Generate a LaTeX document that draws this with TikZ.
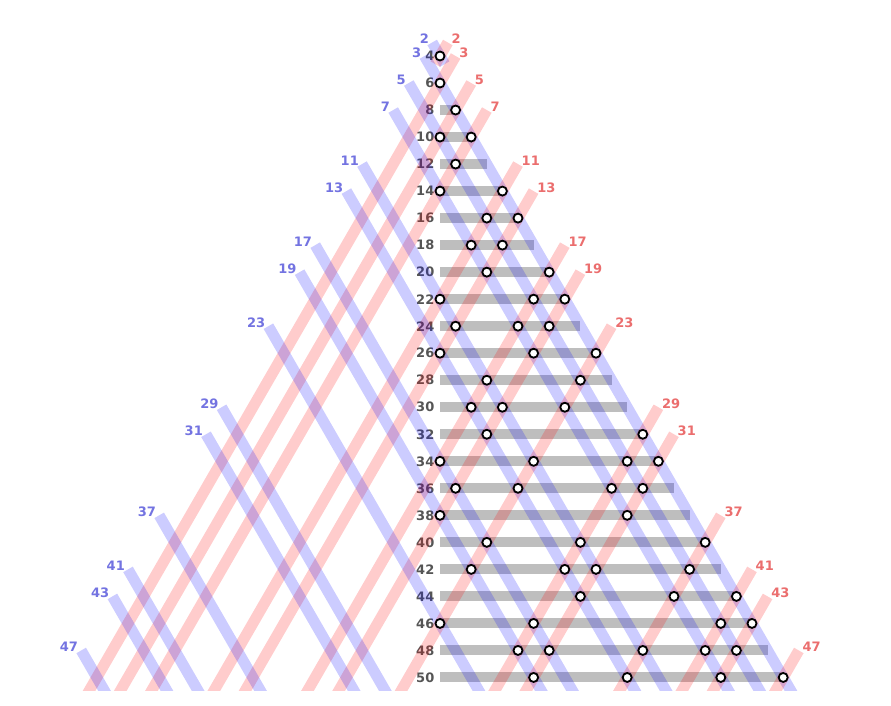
\documentclass[tikz,border=0pt]{standalone}
\usepackage{fontspec}
\setmainfont{DejaVu Sans}
\definecolor{labgray}{RGB}{85,85,85}
\definecolor{bluetxt}{RGB}{115,115,225}
\definecolor{redtxt}{RGB}{235,110,110}
\definecolor{barcol}{RGB}{190,190,190}
\begin{document}
\begin{tikzpicture}[
  lab/.style={font=\bfseries\fontsize{13}{15}\selectfont, inner sep=0pt},
  rowlab/.style={lab, text=labgray, anchor=east},
  bluelab/.style={lab, text=bluetxt, anchor=east},
  redlab/.style={lab, text=redtxt, anchor=west},
  bluestripe/.style={draw=blue, draw opacity=0.2, line width=11pt},
  redstripe/.style={draw=red, draw opacity=0.2, line width=11pt},
  sumbar/.style={draw=barcol, line width=10pt},
  dot/.style={circle, draw=black, fill=white, line width=1.8pt, minimum size=9pt, inner sep=0pt}
]
\useasboundingbox (0pt,0pt) rectangle (891pt,705pt);
\begin{scope}[shift={(440pt,703.04pt)}, x={(15.6pt,0pt)}, y={(0pt,-27.02pt)}]
  % horizontal bars
  \foreach \n in {8,10,...,50} {
    \pgfmathsetmacro\m{\n/2}
    \pgfmathsetmacro\e{\n/2-3}
    \coordinate (bs\n) at (0,\m);
    \coordinate (be\n) at (\e,\m);
    \draw[sumbar] (bs\n) -- (be\n);
  }
  % row labels
  \foreach \n in {4,6,...,50} {
    \pgfmathsetmacro\m{\n/2}
    \node[rowlab] (r\n) at ([xshift=-5.5pt]0,\m) {\n};
  }
  % diagonal stripes
  \begin{scope}
    \clip (-30,-1) rectangle (30,25.5);
    \coordinate (bt2) at (-0.5,1.5);
    \coordinate (bb2) at (0.3,2.3);
    \coordinate (rt2) at (0.5,1.5);
    \coordinate (rb2) at (-0.3,2.3);
    \draw[bluestripe] (bt2) -- (bb2);
    \draw[redstripe] (rt2) -- (rb2);
    \foreach \p in {3,5,7,11,13,17,19,23,29,31,37,41,43,47} {
      \pgfmathsetmacro\ms{(\p+1)/2}
      \coordinate (bt\p) at ({\ms-\p},\ms);
      \coordinate (bb\p) at ({26-\p},26);
      \coordinate (rt\p) at ({\p-\ms},\ms);
      \coordinate (rb\p) at ({\p-26},26);
      \draw[bluestripe] (bt\p) -- (bb\p);
      \draw[redstripe] (rt\p) -- (rb\p);
    }
  \end{scope}
  % prime labels
  \foreach \p in {2,3,5,7,11,13,17,19,23,29,31,37,41,43,47} {
    \node[bluelab] (bl\p) at ([xshift=-3pt,yshift=3.5pt]bt\p) {\p};
    \node[redlab] (rl\p) at ([xshift=3.5pt,yshift=3.5pt]rt\p) {\p};
  }
  % partitions
  \foreach \n/\ds in {4/{0},6/{0},8/{1},10/{2,0},12/{1},14/{4,0},16/{5,3},18/{4,2},
      20/{7,3},22/{8,6,0},24/{7,5,1},26/{10,6,0},28/{9,3},30/{8,4,2},32/{13,3},
      34/{14,12,6,0},36/{13,11,5,1},38/{12,0},40/{17,9,3},42/{16,10,8,2},
      44/{19,15,9},46/{20,18,6,0},48/{19,17,13,7,5},50/{22,18,12,6}} {
    \pgfmathsetmacro\m{\n/2}
    \foreach \d in \ds {
      \node[dot] (c\n-\d) at (\d,\m) {};
    }
  }
\end{scope}
\end{tikzpicture}
\end{document}
